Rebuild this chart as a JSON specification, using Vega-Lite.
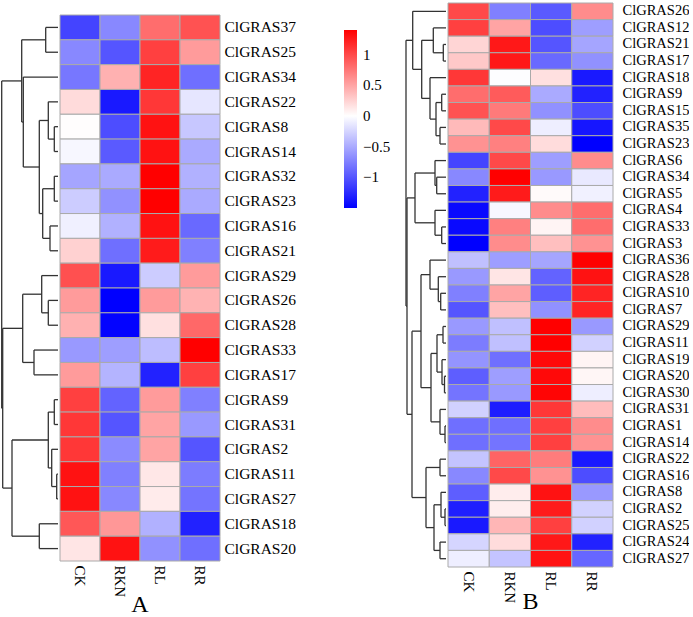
{
  "$schema": "https://vega.github.io/schema/vega-lite/v6.json",
  "padding": {"left": 0, "top": 2, "right": 0, "bottom": 0},
  "config": {"view": {"stroke": null}, "font": "Liberation Serif", "axis": {"labelFont": "Liberation Serif"}, "legend": {"labelFont": "Liberation Serif"}},
  "datasets": {
    "heatA": [
      {"gene": "ClGRAS37", "CK": -1.1, "RKN": -0.7, "RL": 0.8, "RR": 0.95},
      {"gene": "ClGRAS25", "CK": -0.7, "RKN": -1.0, "RL": 1.05, "RR": 0.55},
      {"gene": "ClGRAS34", "CK": -0.8, "RKN": 0.43, "RL": 1.2, "RR": -0.85},
      {"gene": "ClGRAS22", "CK": 0.2, "RKN": -1.35, "RL": 1.1, "RR": -0.15},
      {"gene": "ClGRAS8", "CK": 0.01, "RKN": -1.05, "RL": 1.3, "RR": -0.33},
      {"gene": "ClGRAS14", "CK": -0.05, "RKN": -0.97, "RL": 1.3, "RR": -0.5},
      {"gene": "ClGRAS32", "CK": -0.53, "RKN": -0.5, "RL": 1.4, "RR": -0.46},
      {"gene": "ClGRAS23", "CK": -0.3, "RKN": -0.65, "RL": 1.4, "RR": -0.5},
      {"gene": "ClGRAS16", "CK": -0.09, "RKN": -0.46, "RL": 1.3, "RR": -0.88},
      {"gene": "ClGRAS21", "CK": 0.25, "RKN": -0.85, "RL": 1.25, "RR": -0.75},
      {"gene": "ClGRAS29", "CK": 0.96, "RKN": -1.35, "RL": -0.3, "RR": 0.55},
      {"gene": "ClGRAS26", "CK": 0.55, "RKN": -1.5, "RL": 0.55, "RR": 0.42},
      {"gene": "ClGRAS28", "CK": 0.43, "RKN": -1.48, "RL": 0.17, "RR": 0.83},
      {"gene": "ClGRAS33", "CK": -0.6, "RKN": -0.57, "RL": -0.39, "RR": 1.4},
      {"gene": "ClGRAS17", "CK": 0.55, "RKN": -0.44, "RL": -1.3, "RR": 1.05},
      {"gene": "ClGRAS9", "CK": 1.05, "RKN": -0.92, "RL": 0.55, "RR": -0.75},
      {"gene": "ClGRAS31", "CK": 1.1, "RKN": -1.0, "RL": 0.5, "RR": -0.6},
      {"gene": "ClGRAS2", "CK": 1.1, "RKN": -0.68, "RL": 0.5, "RR": -1.0},
      {"gene": "ClGRAS11", "CK": 1.3, "RKN": -0.75, "RL": 0.13, "RR": -0.77},
      {"gene": "ClGRAS27", "CK": 1.3, "RKN": -0.7, "RL": 0.11, "RR": -0.82},
      {"gene": "ClGRAS18", "CK": 0.92, "RKN": 0.57, "RL": -0.46, "RR": -1.3},
      {"gene": "ClGRAS20", "CK": 0.14, "RKN": 1.3, "RL": -0.65, "RR": -0.85}
    ],
    "heatB": [
      {"gene": "ClGRAS26", "CK": 1.0, "RKN": -0.75, "RL": -0.97, "RR": 0.63},
      {"gene": "ClGRAS12", "CK": 1.05, "RKN": 0.5, "RL": -1.05, "RR": -0.57},
      {"gene": "ClGRAS21", "CK": 0.23, "RKN": 1.27, "RL": -1.0, "RR": -0.53},
      {"gene": "ClGRAS17", "CK": 0.3, "RKN": 1.27, "RL": -0.88, "RR": -0.65},
      {"gene": "ClGRAS18", "CK": 1.1, "RKN": -0.01, "RL": 0.17, "RR": -1.35},
      {"gene": "ClGRAS9", "CK": 0.8, "RKN": 0.9, "RL": -0.5, "RR": -1.3},
      {"gene": "ClGRAS15", "CK": 0.95, "RKN": 0.73, "RL": -0.65, "RR": -1.05},
      {"gene": "ClGRAS35", "CK": 0.38, "RKN": 1.0, "RL": -0.1, "RR": -1.37},
      {"gene": "ClGRAS23", "CK": 0.6, "RKN": 0.7, "RL": 0.19, "RR": -1.5},
      {"gene": "ClGRAS6", "CK": -1.1, "RKN": 1.0, "RL": -0.57, "RR": 0.63},
      {"gene": "ClGRAS34", "CK": -0.7, "RKN": 1.4, "RL": -0.6, "RR": -0.13},
      {"gene": "ClGRAS5", "CK": -1.3, "RKN": 1.25, "RL": 0.03, "RR": -0.08},
      {"gene": "ClGRAS4", "CK": -1.45, "RKN": -0.05, "RL": 0.63, "RR": 0.8},
      {"gene": "ClGRAS33", "CK": -1.45, "RKN": 0.7, "RL": 0.06, "RR": 0.8},
      {"gene": "ClGRAS3", "CK": -1.5, "RKN": 0.63, "RL": 0.35, "RR": 0.6},
      {"gene": "ClGRAS36", "CK": -0.37, "RKN": -0.57, "RL": -0.53, "RR": 1.4},
      {"gene": "ClGRAS28", "CK": -0.6, "RKN": 0.14, "RL": -0.92, "RR": 1.3},
      {"gene": "ClGRAS10", "CK": -0.75, "RKN": 0.5, "RL": -0.95, "RR": 1.2},
      {"gene": "ClGRAS7", "CK": -1.0, "RKN": 0.35, "RL": -0.65, "RR": 1.2},
      {"gene": "ClGRAS29", "CK": -0.6, "RKN": -0.37, "RL": 1.4, "RR": -0.6},
      {"gene": "ClGRAS11", "CK": -0.77, "RKN": -0.37, "RL": 1.4, "RR": -0.27},
      {"gene": "ClGRAS19", "CK": -0.63, "RKN": -0.85, "RL": 1.35, "RR": 0.06},
      {"gene": "ClGRAS20", "CK": -0.95, "RKN": -0.57, "RL": 1.35, "RR": 0.05},
      {"gene": "ClGRAS30", "CK": -0.82, "RKN": -0.6, "RL": 1.37, "RR": -0.1},
      {"gene": "ClGRAS31", "CK": -0.27, "RKN": -1.33, "RL": 1.1, "RR": 0.37},
      {"gene": "ClGRAS1", "CK": -0.85, "RKN": -0.85, "RL": 1.05, "RR": 0.63},
      {"gene": "ClGRAS14", "CK": -0.85, "RKN": -0.82, "RL": 1.05, "RR": 0.6},
      {"gene": "ClGRAS22", "CK": -0.35, "RKN": 0.85, "RL": 0.72, "RR": -1.35},
      {"gene": "ClGRAS16", "CK": -0.7, "RKN": 1.0, "RL": 0.6, "RR": -1.05},
      {"gene": "ClGRAS8", "CK": -0.95, "RKN": 0.1, "RL": 1.3, "RR": -0.6},
      {"gene": "ClGRAS2", "CK": -1.32, "RKN": 0.1, "RL": 1.25, "RR": -0.27},
      {"gene": "ClGRAS25", "CK": -1.35, "RKN": 0.4, "RL": 1.05, "RR": -0.27},
      {"gene": "ClGRAS24", "CK": -0.25, "RKN": 0.19, "RL": 1.27, "RR": -1.3},
      {"gene": "ClGRAS27", "CK": -0.1, "RKN": -0.35, "RL": 1.3, "RR": -0.9}
    ],
    "treeA": [
      {"h": 12.3, "ya": 0.5, "ha": 0, "yb": 1.5, "hb": 0},
      {"h": 3.7, "ya": 4.5, "ha": 0, "yb": 5.5, "hb": 0},
      {"h": 9.7, "ya": 3.5, "ha": 0, "yb": 5, "hb": 3.7},
      {"h": 3.7, "ya": 6.5, "ha": 0, "yb": 7.5, "hb": 0},
      {"h": 8, "ya": 8.5, "ha": 0, "yb": 9.5, "hb": 0},
      {"h": 15.3, "ya": 7, "ha": 3.7, "yb": 9, "hb": 8},
      {"h": 18.7, "ya": 4.25, "ha": 9.7, "yb": 8, "hb": 15.3},
      {"h": 34.7, "ya": 2.5, "ha": 0, "yb": 6.125, "hb": 18.7},
      {"h": 36.3, "ya": 1, "ha": 12.3, "yb": 4.3125, "hb": 34.7},
      {"h": 9.7, "ya": 11.5, "ha": 0, "yb": 12.5, "hb": 0},
      {"h": 16.3, "ya": 10.5, "ha": 0, "yb": 12, "hb": 9.7},
      {"h": 24, "ya": 13.5, "ha": 0, "yb": 14.5, "hb": 0},
      {"h": 35.3, "ya": 11.25, "ha": 16.3, "yb": 14, "hb": 24},
      {"h": 3.7, "ya": 15.5, "ha": 0, "yb": 16.5, "hb": 0},
      {"h": 1.3, "ya": 18.5, "ha": 0, "yb": 19.5, "hb": 0},
      {"h": 6.3, "ya": 17.5, "ha": 0, "yb": 19, "hb": 1.3},
      {"h": 9.7, "ya": 16, "ha": 3.7, "yb": 18.25, "hb": 6.3},
      {"h": 18.7, "ya": 20.5, "ha": 0, "yb": 21.5, "hb": 0},
      {"h": 46, "ya": 17.125, "ha": 9.7, "yb": 21, "hb": 18.7},
      {"h": 55.3, "ya": 12.625, "ha": 35.3, "yb": 19.0625, "hb": 46},
      {"h": 56.3, "ya": 2.65625, "ha": 36.3, "yb": 15.84375, "hb": 55.3}
    ],
    "treeB": [
      {"h": 2.7, "ya": 2.5, "ha": 0, "yb": 3.5, "hb": 0},
      {"h": 12.7, "ya": 1.5, "ha": 0, "yb": 3, "hb": 2.7},
      {"h": 4.3, "ya": 5.5, "ha": 0, "yb": 6.5, "hb": 0},
      {"h": 6, "ya": 7.5, "ha": 0, "yb": 8.5, "hb": 0},
      {"h": 10, "ya": 6, "ha": 4.3, "yb": 8, "hb": 6},
      {"h": 16, "ya": 4.5, "ha": 0, "yb": 7, "hb": 10},
      {"h": 24.3, "ya": 2.25, "ha": 12.7, "yb": 5.75, "hb": 16},
      {"h": 33.3, "ya": 0.5, "ha": 0, "yb": 4, "hb": 24.3},
      {"h": 9.3, "ya": 10.5, "ha": 0, "yb": 11.5, "hb": 0},
      {"h": 11, "ya": 9.5, "ha": 0, "yb": 11, "hb": 9.3},
      {"h": 4.3, "ya": 13.5, "ha": 0, "yb": 14.5, "hb": 0},
      {"h": 11, "ya": 12.5, "ha": 0, "yb": 14, "hb": 4.3},
      {"h": 31, "ya": 10.25, "ha": 11, "yb": 13.25, "hb": 11},
      {"h": 5.3, "ya": 17.5, "ha": 0, "yb": 18.5, "hb": 0},
      {"h": 7.7, "ya": 16.5, "ha": 0, "yb": 18, "hb": 5.3},
      {"h": 16, "ya": 15.5, "ha": 0, "yb": 17.25, "hb": 7.7},
      {"h": 3, "ya": 19.5, "ha": 0, "yb": 20.5, "hb": 0},
      {"h": 1.5, "ya": 22.5, "ha": 0, "yb": 23.5, "hb": 0},
      {"h": 4, "ya": 21.5, "ha": 0, "yb": 23, "hb": 1.5},
      {"h": 9, "ya": 20, "ha": 3, "yb": 22.25, "hb": 4},
      {"h": 1, "ya": 25.5, "ha": 0, "yb": 26.5, "hb": 0},
      {"h": 6, "ya": 24.5, "ha": 0, "yb": 26, "hb": 1},
      {"h": 15, "ya": 21.125, "ha": 9, "yb": 25.25, "hb": 6},
      {"h": 25, "ya": 16.375, "ha": 16, "yb": 23.1875, "hb": 15},
      {"h": 6, "ya": 27.5, "ha": 0, "yb": 28.5, "hb": 0},
      {"h": 1, "ya": 30.5, "ha": 0, "yb": 31.5, "hb": 0},
      {"h": 5, "ya": 29.5, "ha": 0, "yb": 31, "hb": 1},
      {"h": 6, "ya": 32.5, "ha": 0, "yb": 33.5, "hb": 0},
      {"h": 12, "ya": 30.25, "ha": 5, "yb": 33, "hb": 6},
      {"h": 20, "ya": 28, "ha": 6, "yb": 31.625, "hb": 12},
      {"h": 34, "ya": 19.78125, "ha": 25, "yb": 29.8125, "hb": 20},
      {"h": 39, "ya": 11.75, "ha": 31, "yb": 24.796875, "hb": 34},
      {"h": 40, "ya": 2.25, "ha": 33.3, "yb": 18.2734, "hb": 39}
    ]
  },
  "resolve": {"scale": {"color": "independent"}, "legend": {"color": "independent"}},
  "spacing": 9,
  "hconcat": [
    {
      "resolve": {"scale": {"color": "independent"}, "legend": {"color": "independent"}},
      "spacing": 0,
      "vconcat": [
        {
          "width": 10, "height": 11,
          "data": {"values": [{}]},
          "mark": {"type": "point", "opacity": 0},
          "encoding": {}
        },
        {
          "resolve": {"scale": {"color": "independent"}, "legend": {"color": "independent"}},
          "spacing": 0,
          "hconcat": [
            {
              "width": 58, "height": 546,
              "data": {"name": "treeA"},
              "layer": [
                {"mark": {"type": "rule", "color": "#333333", "strokeWidth": 1.3},
                 "encoding": {
                   "x": {"field": "h", "type": "quantitative", "scale": {"domain": [58, 0], "nice": false, "zero": false}, "axis": null},
                   "y": {"field": "ya", "type": "quantitative", "scale": {"domain": [0, 22], "reverse": true, "nice": false}, "axis": null},
                   "y2": {"field": "yb"}
                 }},
                {"mark": {"type": "rule", "color": "#333333", "strokeWidth": 1.3},
                 "encoding": {
                   "x": {"field": "h", "type": "quantitative"},
                   "x2": {"field": "ha"},
                   "y": {"field": "ya", "type": "quantitative"}
                 }},
                {"mark": {"type": "rule", "color": "#333333", "strokeWidth": 1.3},
                 "encoding": {
                   "x": {"field": "h", "type": "quantitative"},
                   "x2": {"field": "hb"},
                   "y": {"field": "yb", "type": "quantitative"}
                 }}
              ]
            },
            {
              "width": 160, "height": 546,
              "data": {"name": "heatA"},
              "transform": [{"fold": ["CK", "RKN", "RL", "RR"], "as": ["sample", "value"]}],
              "mark": {"type": "rect", "stroke": "#aaaaaa", "strokeWidth": 1},
              "encoding": {
                "x": {"field": "sample", "type": "nominal", "sort": ["CK", "RKN", "RL", "RR"],
                      "scale": {"paddingInner": 0, "paddingOuter": 0},
                      "axis": {"title": null, "labelAngle": 90, "labelAlign": "left", "labelBaseline": "middle", "labelFontSize": 15, "labelFont": "Liberation Serif", "labelColor": "#000000", "domain": false, "ticks": false, "labelPadding": 4}},
                "y": {"field": "gene", "type": "nominal", "sort": null,
                      "scale": {"paddingInner": 0, "paddingOuter": 0},
                      "axis": {"orient": "right", "title": null, "domain": false, "ticks": false, "labelPadding": 4, "labelFontSize": 15.5, "labelFont": "Liberation Serif", "labelColor": "#000000"}},
                "color": {"field": "value", "type": "quantitative",
                          "scale": {"domain": [-1.5, 1.4], "domainMid": 0, "range": ["#0000ff", "#ffffff", "#ff0000"], "interpolate": "rgb"},
                          "legend": {"orient": "none", "legendX": 284, "legendY": 15, "title": null, "direction": "vertical", "gradientLength": 178, "gradientThickness": 13, "gradientStrokeWidth": 0, "values": [1, 0.5, 0, -0.5, -1], "format": "~g", "labelFontSize": 15, "labelFont": "Liberation Serif", "labelColor": "#000000", "labelOffset": 6, "labelOverlap": false}}
              },
              "title": {"text": "A", "orient": "bottom", "fontSize": 24, "font": "Liberation Serif", "fontWeight": "normal", "color": "#000000", "offset": -4}
            }
          ]
        }
      ]
    },
    {
      "resolve": {"scale": {"color": "independent"}, "legend": {"color": "independent"}},
      "spacing": 0,
      "hconcat": [
        {
          "width": 46, "height": 564,
          "data": {"name": "treeB"},
          "layer": [
            {"mark": {"type": "rule", "color": "#333333", "strokeWidth": 1.3},
             "encoding": {
               "x": {"field": "h", "type": "quantitative", "scale": {"domain": [46, 0], "nice": false, "zero": false}, "axis": null},
               "y": {"field": "ya", "type": "quantitative", "scale": {"domain": [0, 34], "reverse": true, "nice": false}, "axis": null},
               "y2": {"field": "yb"}
             }},
            {"mark": {"type": "rule", "color": "#333333", "strokeWidth": 1.3},
             "encoding": {
               "x": {"field": "h", "type": "quantitative"},
               "x2": {"field": "ha"},
               "y": {"field": "ya", "type": "quantitative"}
             }},
            {"mark": {"type": "rule", "color": "#333333", "strokeWidth": 1.3},
             "encoding": {
               "x": {"field": "h", "type": "quantitative"},
               "x2": {"field": "hb"},
               "y": {"field": "yb", "type": "quantitative"}
             }}
          ]
        },
        {
          "width": 165, "height": 564,
          "data": {"name": "heatB"},
          "transform": [{"fold": ["CK", "RKN", "RL", "RR"], "as": ["sample", "value"]}],
          "mark": {"type": "rect", "stroke": "#aaaaaa", "strokeWidth": 1},
          "encoding": {
            "x": {"field": "sample", "type": "nominal", "sort": ["CK", "RKN", "RL", "RR"],
                  "scale": {"paddingInner": 0, "paddingOuter": 0},
                  "axis": {"title": null, "labelAngle": 90, "labelAlign": "left", "labelBaseline": "middle", "labelFontSize": 15, "labelFont": "Liberation Serif", "labelColor": "#000000", "domain": false, "ticks": false, "labelPadding": 4}},
            "y": {"field": "gene", "type": "nominal", "sort": null,
                  "scale": {"paddingInner": 0, "paddingOuter": 0},
                  "axis": {"orient": "right", "title": null, "domain": false, "ticks": false, "labelPadding": 9, "labelFontSize": 14.5, "labelFont": "Liberation Serif", "labelColor": "#000000"}},
            "color": {"field": "value", "type": "quantitative",
                      "scale": {"domain": [-1.5, 1.4], "domainMid": 0, "range": ["#0000ff", "#ffffff", "#ff0000"], "interpolate": "rgb"},
                      "legend": null}
          },
          "title": {"text": "B", "orient": "bottom", "fontSize": 24, "font": "Liberation Serif", "fontWeight": "normal", "color": "#000000", "offset": -13}
        }
      ]
    }
  ]
}
